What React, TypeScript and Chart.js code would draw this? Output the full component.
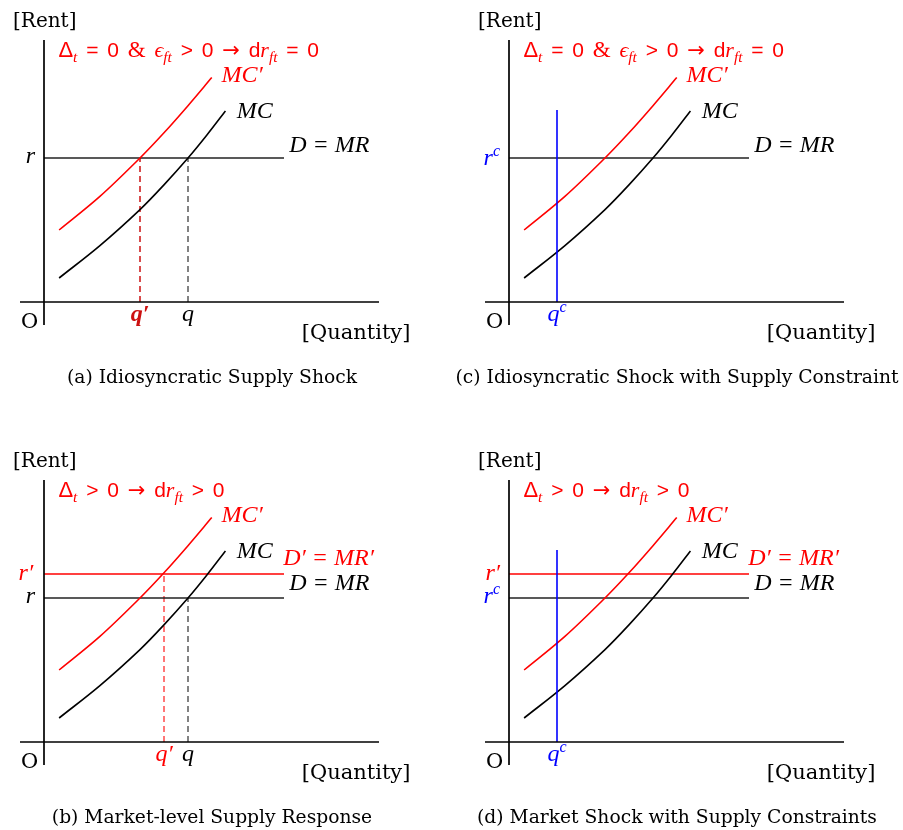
import React, { useEffect, useRef } from "react";
import { Chart, registerables } from "chart.js";

Chart.register(...registerables);

// ---------- data (in axis units) ----------
const MC_X = [0.63, 2.33, 4.0, 4.97, 6.0, 6.78, 7.56];
const MC_Y = [1.0, 2.35, 3.85, 4.85, 6.0, 6.95, 7.96];
const MC_SHIFTED_X = [0.63, 2.33, 4.0, 5.0, 6.0, 6.99];
const MC_SHIFTED_Y = [3.0, 4.4, 6.0, 7.05, 8.18, 9.35];
const RENT_R = 6;
const RENT_R_PRIME = 7;
const QTY_Q = 6;
const QTY_Q_PRIME_IDIO = 4;
const QTY_Q_PRIME_MARKET = 5;
const QTY_QC = 2;
const QC_TOP = 8;
const AXIS_X_SPAN = [-1, 13.96];
const AXIS_Y_SPAN = [-0.96, 10.92];
const DEMAND_SPAN = [0, 10];
const CAPTIONS = [
  "(a) Idiosyncratic Supply Shock",
  "(b) Market-level Supply Response",
  "(c) Idiosyncratic Shock with Supply Constraint",
  "(d) Market Shock with Supply Constraints",
];

const RED = "#ff0000";
const DARK_RED = "#cc1010";
const LIGHT_RED = "#ff4a4a";
const BLUE = "#0000ff";
const GRAY = "#5a5a5a";

type Part = { t: string; f: string; s: number; dy?: number; w?: string; c?: string; k?: number };
type Label = { x: number; y: number; align: "left" | "right" | "center"; color: string; parts: Part[] };

const FONTS: Record<string, string> = {
  rm: "'DejaVu Serif', serif",
  se: "'Liberation Serif', 'DejaVu Serif', serif",
  it: "'Liberation Serif', 'DejaVu Serif', serif",
  sf: "'Liberation Sans', 'DejaVu Sans', sans-serif",
  dv: "'DejaVu Sans', sans-serif",
};

function fontOf(p: Part) {
  const style = p.f === "it" ? "italic " : "";
  const weight = p.w ? p.w + " " : "";
  return `${style}${weight}${p.s}px ${FONTS[p.f]}`;
}

function drawRich(ctx: CanvasRenderingContext2D, x: number, y: number, lab: Label) {
  const widths: number[] = [];
  let total = 0;
  for (const p of lab.parts) {
    ctx.font = fontOf(p);
    const w = (p.t ? ctx.measureText(p.t).width : 0) + (p.k || 0);
    widths.push(w);
    total += w;
  }
  let cx = lab.align === "left" ? x : lab.align === "right" ? x - total : x - total / 2;
  ctx.textBaseline = "alphabetic";
  ctx.textAlign = "left";
  lab.parts.forEach((p, i) => {
    ctx.font = fontOf(p);
    ctx.fillStyle = p.c || lab.color;
    if (p.t) ctx.fillText(p.t, cx, y + (p.dy || 0));
    cx += widths[i];
  });
}

const IT = (t: string, s = 24): Part => ({ t, f: "it", s });
const SUB = (t: string): Part => ({ t, f: "it", s: 15.5, dy: 5 });
const SUP = (t: string): Part => ({ t, f: "it", s: 16, dy: -9 });
const SF = (t: string, s = 21): Part => ({ t, f: "sf", s });
const GAP = (k = 8.8): Part => ({ t: "", f: "sf", s: 21, k });
const ARROW: Part = { t: "→", f: "dv", s: 21 };

const ANNOT_IDIO: Part[] = [
  SF("Δ", 22), SUB("t"), GAP(), SF("="), GAP(), SF("0"), GAP(), { t: "&", f: "se", s: 23 }, GAP(),
  IT("ϵ", 22), SUB("ft"), GAP(), SF(">"), GAP(), SF("0"), GAP(), ARROW, GAP(),
  SF("d"), IT("r", 22), SUB("ft"), GAP(), SF("="), GAP(), SF("0"),
];
const ANNOT_MARKET: Part[] = [
  SF("Δ", 22), SUB("t"), GAP(), SF(">"), GAP(), SF("0"), GAP(), ARROW, GAP(),
  SF("d"), IT("r", 22), SUB("ft"), GAP(), SF(">"), GAP(), SF("0"),
];

function commonLabels(idx: number, market: boolean): Label[] {
  return [
    { x: -1.29, y: 11.47, align: "left", color: "#000", parts: [{ t: "[Rent]", f: "rm", s: 20 }] },
    { x: 10.74, y: -1.56, align: "left", color: "#000", parts: [{ t: "[Quantity]", f: "rm", s: 21 }] },
    { x: -0.6, y: -1.1, align: "center", color: "#000", parts: [{ t: "O", f: "rm", s: 21 }] },
    { x: 7.4, y: 9.18, align: "left", color: RED, parts: [IT("MC′")] },
    { x: 8.03, y: 7.65, align: "left", color: "#000", parts: [IT("MC")] },
    { x: 0.6, y: 10.2, align: "left", color: RED, parts: market ? ANNOT_MARKET : ANNOT_IDIO },
    { x: 7, y: -3.36, align: "center", color: "#000", parts: [{ t: CAPTIONS[idx], f: "rm", s: 18.7 }] },
  ];
}

type PanelDef = { left: number; top: number; market: boolean; constraint: boolean; caption: number };
const PANELS: PanelDef[] = [
  { left: -16, top: 0, market: false, constraint: false, caption: 0 },
  { left: 449, top: 0, market: false, constraint: true, caption: 2 },
  { left: -16, top: 440, market: true, constraint: false, caption: 1 },
  { left: 449, top: 440, market: true, constraint: true, caption: 3 },
];

function panelLabels(p: PanelDef): Label[] {
  const L = commonLabels(p.caption, p.market);
  const dmrY = p.market ? 6.33 : 6.26;
  L.push({ x: 10.22, y: dmrY, align: "left", color: "#000", parts: [IT("D = MR")] });
  if (p.market) {
    L.push({ x: 9.97, y: 7.375, align: "left", color: RED, parts: [IT("D′ = MR′")] });
    L.push({ x: p.constraint ? -0.375 : -0.45, y: 6.75, align: "right", color: RED, parts: [IT("r′")] });
  }
  if (p.constraint) {
    L.push({ x: -0.375, y: p.market ? 5.78 : 5.71, align: "right", color: BLUE, parts: [IT("r"), SUP("c")] });
    L.push({ x: QTY_QC, y: -0.8, align: "center", color: BLUE, parts: [IT("q"), SUP("c")] });
  } else {
    L.push({ x: -0.375, y: 5.78, align: "right", color: "#000", parts: [IT("r")] });
    L.push({ x: QTY_Q, y: -0.8, align: "center", color: "#000", parts: [IT("q")] });
    if (p.market) {
      L.push({ x: QTY_Q_PRIME_MARKET, y: -0.8, align: "center", color: RED, parts: [IT("q′")] });
    } else {
      L.push({ x: QTY_Q_PRIME_IDIO, y: -0.8, align: "center", color: DARK_RED, parts: [{ t: "q′", f: "it", s: 24, w: "bold" }] });
    }
  }
  return L;
}

const zip = (xs: number[], ys: number[]) => xs.map((x, i) => ({ x, y: ys[i] }));

function line(data: { x: number; y: number }[], color: string, width = 1.6, dash: number[] = [], smooth = false) {
  return {
    data,
    borderColor: color,
    backgroundColor: color,
    borderWidth: width,
    borderDash: dash,
    showLine: true,
    pointRadius: 0,
    pointHoverRadius: 0,
    fill: false,
    clip: false as any,
    tension: smooth ? 0.35 : 0,
    cubicInterpolationMode: "default",
  };
}

function buildDatasets(p: PanelDef) {
  const ds: any[] = [];
  ds.push(line(zip(AXIS_X_SPAN, [0, 0]), "#000", 1.7));
  ds.push(line(zip([0, 0], AXIS_Y_SPAN), "#000", 1.7));
  if (p.constraint) ds.push(line(zip([QTY_QC, QTY_QC], [0, QC_TOP]), BLUE, 1.6));
  ds.push(line(zip(MC_X, MC_Y), "#000", 1.6, [], true));
  ds.push(line(zip(MC_SHIFTED_X, MC_SHIFTED_Y), RED, 1.6, [], true));
  if (p.market) ds.push(line(zip(DEMAND_SPAN, [RENT_R_PRIME, RENT_R_PRIME]), RED, 1.6));
  ds.push(line(zip(DEMAND_SPAN, [RENT_R, RENT_R]), "#222", 1.6));
  if (!p.constraint) {
    ds.push(line(zip([QTY_Q, QTY_Q], [0, RENT_R]), GRAY, 1.5, [6, 4]));
    if (p.market) ds.push(line(zip([QTY_Q_PRIME_MARKET, QTY_Q_PRIME_MARKET], [0, RENT_R_PRIME]), LIGHT_RED, 1.5, [6, 4]));
    else ds.push(line(zip([QTY_Q_PRIME_IDIO, QTY_Q_PRIME_IDIO], [0, RENT_R]), DARK_RED, 1.5, [6, 4]));
  }
  return ds;
}

function Panel({ def }: { def: PanelDef }) {
  const ref = useRef<HTMLCanvasElement | null>(null);
  useEffect(() => {
    if (!ref.current) return;
    const labels = panelLabels(def);
    const labelPlugin = {
      id: "econLabels",
      afterDatasetsDraw(chart: any) {
        const ctx = chart.ctx as CanvasRenderingContext2D;
        const xs = chart.scales.x;
        const ys = chart.scales.y;
        ctx.save();
        for (const lab of labels) {
          drawRich(ctx, xs.getPixelForValue(lab.x), ys.getPixelForValue(lab.y), lab);
        }
        ctx.restore();
      },
    };
    const chart = new Chart(ref.current, {
      type: "scatter",
      data: { datasets: buildDatasets(def) },
      options: {
        animation: false,
        responsive: false,
        maintainAspectRatio: false,
        devicePixelRatio: 1,
        events: [],
        layout: { padding: { left: 36, right: 59, top: 38, bottom: 74 } },
        scales: {
          x: { type: "linear", min: -1, max: 14, display: false },
          y: { type: "linear", min: -1, max: 11, display: false },
        },
        plugins: { legend: { display: false }, tooltip: { enabled: false }, title: { display: false } },
      } as any,
      plugins: [labelPlugin],
    });
    return () => chart.destroy();
  }, [def]);
  return (
    <canvas
      ref={ref}
      width={455}
      height={400}
      style={{ position: "absolute", left: def.left, top: def.top, width: 455, height: 400 }}
    />
  );
}

export default function App() {
  return (
    <div
      style={{
        position: "absolute",
        left: 0,
        top: 0,
        width: 903,
        height: 830,
        overflow: "hidden",
        background: "#fff",
      }}
    >
      {PANELS.map((p, i) => (
        <Panel key={i} def={p} />
      ))}
    </div>
  );
}
